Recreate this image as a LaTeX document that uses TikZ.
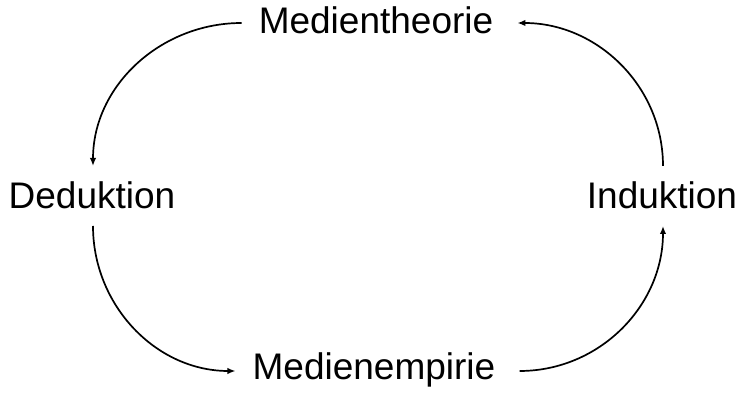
\documentclass[tikz,border=0pt]{standalone}
\usepackage{fontspec}
\setmainfont{Liberation Sans}
\usetikzlibrary{arrows.meta,calc}
\begin{document}
\begin{tikzpicture}[x=1pt,y=1pt,
  term/.style={inner sep=0pt,anchor=base,font=\fontsize{37}{42}\selectfont},
  flow/.style={line width=1.7pt,-{Latex[length=8pt,width=6.5pt]}}]
\useasboundingbox (0,0) rectangle (742,393);
% the four terms of the cycle
\node[term] (top)   at (376,359) {Medientheorie};
\node[term] (left)  at (92,184)  {Deduktion};
\node[term] (right) at (662,184) {Induktion};
\node[term] (bot)   at (374,13)  {Medienempirie};
% connector end points beside the terms
\coordinate (tw) at ($(top.base west)+(-17,11)$);
\coordinate (te) at ($(top.base east)+(24,11)$);
\coordinate (ln) at ($(left.north)+(1,16)$);
\coordinate (ls) at ($(left.base)+(1,-17)$);
\coordinate (rn) at ($(right.north)+(1,16)$);
\coordinate (rs) at ($(right.base)+(1,-17)$);
\coordinate (bw) at ($(bot.base west)+(-17,9)$);
\coordinate (be) at ($(bot.base east)+(24,9)$);
% quarter-ellipse arrows round the cycle
\draw[flow] (tw) to[out=180,in=90] (ln);
\draw[flow] (ls) to[out=-90,in=180] (bw);
\draw[flow] (be) to[out=0,in=-90] (rs);
\draw[flow] (rn) to[out=90,in=0] (te);
\end{tikzpicture}
\end{document}
